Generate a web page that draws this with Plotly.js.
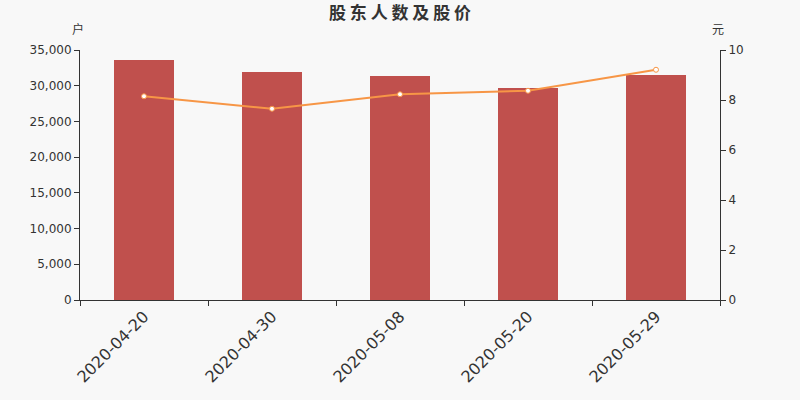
<!DOCTYPE html>
<html>
<head>
<meta charset="utf-8">
<script src="https://cdn.plot.ly/plotly-3.0.1.min.js"></script>
<style>html,body{margin:0;padding:0;background:#f8f8f8;}#chart{width:800px;height:400px;}</style>
</head>
<body>
<div id="chart"></div>
<script>
const categories = ["2020-04-20", "2020-04-30", "2020-05-08", "2020-05-20", "2020-05-29"];
const holders = [33600, 31870, 31360, 29630, 31450];
const prices = [8.15, 7.65, 8.23, 8.37, 9.21];
const yTickVals = [0, 5000, 10000, 15000, 20000, 25000, 30000, 35000];
const yTickText = ["0", "5,000", "10,000", "15,000", "20,000", "25,000", "30,000", "35,000"];
const y2TickVals = [0, 2, 4, 6, 8, 10];
const titleText = "股东人数及股价";

const font = "DejaVu Sans, sans-serif";
const data = [
  {
    type: "bar", x: categories, y: holders, name: "股东人数",
    marker: {color: "#c0504d"}, width: 0.47, hoverinfo: "y"
  },
  {
    type: "scatter", mode: "lines+markers", x: categories, y: prices, yaxis: "y2", name: "股价",
    line: {color: "#f79646", width: 2},
    marker: {color: "#ffffff", size: 5, line: {color: "#f79646", width: 1}}
  }
];
const layout = {
  width: 800, height: 400,
  paper_bgcolor: "#f8f8f8", plot_bgcolor: "#f8f8f8",
  margin: {l: 80, r: 80, t: 50, b: 100},
  showlegend: false,
  bargap: 0,
  title: {text: "<b>" + titleText.split("").join(" ") + "</b>", x: 0.5, xanchor: "center", y: 0.967, yanchor: "middle",
          font: {family: "Noto Sans CJK SC, sans-serif", size: 17, color: "#333333"}},
  xaxis: {
    type: "category", showline: true, linecolor: "#333333", linewidth: 1,
    ticks: "outside", tickson: "boundaries", ticklen: 5, tickcolor: "#333333",
    tickangle: -45, tickfont: {family: font, size: 16, color: "#333333"},
    showgrid: false, zeroline: false, range: [-0.5, 4.5]
  },
  yaxis: {
    range: [0, 35000], tickvals: yTickVals, ticktext: yTickText,
    showline: true, linecolor: "#333333", linewidth: 1,
    ticks: "outside", ticklen: 5, tickcolor: "#333333",
    tickfont: {family: font, size: 12, color: "#333333"},
    showgrid: false, zeroline: false
  },
  yaxis2: {
    range: [0, 10], tickvals: y2TickVals, overlaying: "y", side: "right",
    showline: true, linecolor: "#333333", linewidth: 1,
    ticks: "outside", ticklen: 5, tickcolor: "#333333",
    tickfont: {family: font, size: 12, color: "#333333"},
    showgrid: false, zeroline: false
  },
  annotations: [
    {text: "户", xref: "paper", yref: "paper", x: 0, y: 1, xshift: -2, yshift: 22,
     xanchor: "center", yanchor: "middle", showarrow: false,
     font: {family: "Noto Sans CJK SC, sans-serif", size: 12, color: "#333333"}},
    {text: "元", xref: "paper", yref: "paper", x: 1, y: 1, xshift: -2, yshift: 22,
     xanchor: "center", yanchor: "middle", showarrow: false,
     font: {family: "Noto Sans CJK SC, sans-serif", size: 12, color: "#333333"}}
  ]
};
Plotly.newPlot("chart", data, layout, {displayModeBar: false, staticPlot: true});
</script>
</body>
</html>
